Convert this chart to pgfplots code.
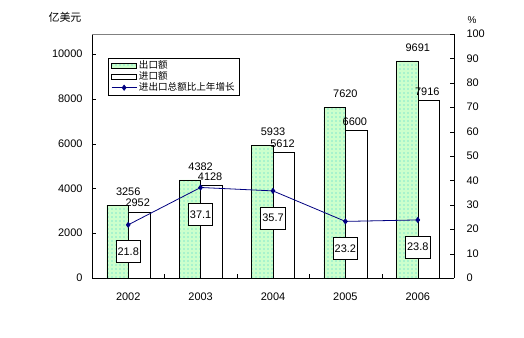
\documentclass[border=0pt]{standalone}
\usepackage{fontspec}
\setmainfont{Liberation Sans}
\newfontfamily\cjk{Noto Sans CJK SC}
\usepackage{pgfplots}
\pgfplotsset{compat=1.18}
\usetikzlibrary{patterns.meta}
\definecolor{expfill}{HTML}{CCFFCC}
\definecolor{dotc}{HTML}{33CCCC}
\definecolor{navy}{HTML}{000080}
\newcommand{\lblfont}{\fontsize{11}{13}\selectfont}
\pgfplotsset{
  barlegend/.style={legend image code/.code={\draw[##1] (0bp,-2.5bp) rectangle (25bp,2.5bp);}},
  linelegend/.style={legend image code/.code={\draw[##1, mark repeat=2, mark phase=2] plot coordinates {(0bp,0bp) (12.5bp,0bp) (25bp,0bp)};}},
}
\begin{document}
\begin{tikzpicture}[x=1bp,y=1bp]
\path[use as bounding box] (0,0) rectangle (524,-337);
\node[font=\cjk\fontsize{11}{13}\selectfont] at (65,-17) {亿美元};
\node[font=\fontsize{10}{12}\selectfont] at (472,-20) {\%};
\begin{axis}[
  at={(92bp,-278bp)}, anchor=south west, scale only axis,
  width=362bp, height=244bp,
  xmin=-0.5, xmax=4.5, ymin=0, ymax=10893,
  axis x line*=bottom, axis y line*=left,
  xtick={0,1,2,3,4}, xticklabels={2002,2003,2004,2005,2006},
  minor xtick={0.5,1.5,2.5,3.5},
  ytick={0,2000,4000,6000,8000,10000},
  scaled y ticks=false,
  tick align=inside, major tick length=4bp, minor tick length=4bp,
  x tick style={draw=none}, minor x tick style={draw=black},
  y tick style={black},
  ticklabel style={font=\lblfont},
  yticklabel style={xshift=-6bp},
  xticklabel style={yshift=-11bp},
  /pgf/number format/assume math mode=true,
  /pgf/number format/1000 sep={},
  legend style={at={(0.0442,0.9016)}, anchor=north west, draw=black,
    font=\cjk\fontsize{9.6}{10}\selectfont, row sep=0bp,
    inner xsep=3bp, inner ysep=2bp,
    nodes={inner ysep=1bp, text height=7.5bp, text depth=1.5bp}},
  legend cell align=left,
  every node near coord/.append style={font=\lblfont, text=black},
]
\addplot[ybar, bar width=21.5bp, bar shift=-10.75bp, draw=black, fill=expfill,
  postaction={pattern={Dots[distance=4bp, radius=0.55bp]}, pattern color=dotc},
  nodes near coords={\raisebox{6bp}{\pgfmathprintnumber{\pgfplotspointmeta}}}, barlegend]
  coordinates {(0,3256) (1,4382) (2,5933) (3,7620) (4,9691)};
\addlegendentry{出口额}
\addplot[ybar, bar width=21.5bp, bar shift=10.75bp, draw=black, fill=white,
  nodes near coords={\raisebox{1.5bp}{\hspace*{19bp}\pgfmathprintnumber{\pgfplotspointmeta}}}, barlegend]
  coordinates {(0,2952) (1,4128) (2,5612) (3,6600) (4,7916)};
\addlegendentry{进口额}
\addlegendimage{navy, thick, mark=diamond*, mark size=2.5bp, linelegend}
\addlegendentry{进出口总额比上年增长}
\draw[gray] (rel axis cs:0,1) -- (rel axis cs:1,1);
\end{axis}
\begin{axis}[
  at={(92bp,-278bp)}, anchor=south west, scale only axis,
  width=362bp, height=244bp,
  xmin=-0.5, xmax=4.5, ymin=0, ymax=100,
  axis x line=none, axis y line*=right,
  ytick={0,10,...,100},
  tick align=inside, major tick length=4bp,
  y tick style={black},
  ticklabel style={font=\lblfont},
  yticklabel style={xshift=9bp},
  /pgf/number format/assume math mode=true,
]
\addplot[navy, thick, mark=diamond*, mark size=2.5bp,
  nodes near coords,
  /pgf/number format/fixed, /pgf/number format/precision=1, /pgf/number format/fixed zerofill,
  every node near coord/.append style={draw=black, fill=white, text=black, font=\lblfont,
     anchor=center, yshift=-27bp, minimum height=22bp, inner xsep=1.5bp}]
  coordinates {(0,21.8) (1,37.1) (2,35.7) (3,23.2) (4,23.8)};
\end{axis}
\end{tikzpicture}
\end{document}
